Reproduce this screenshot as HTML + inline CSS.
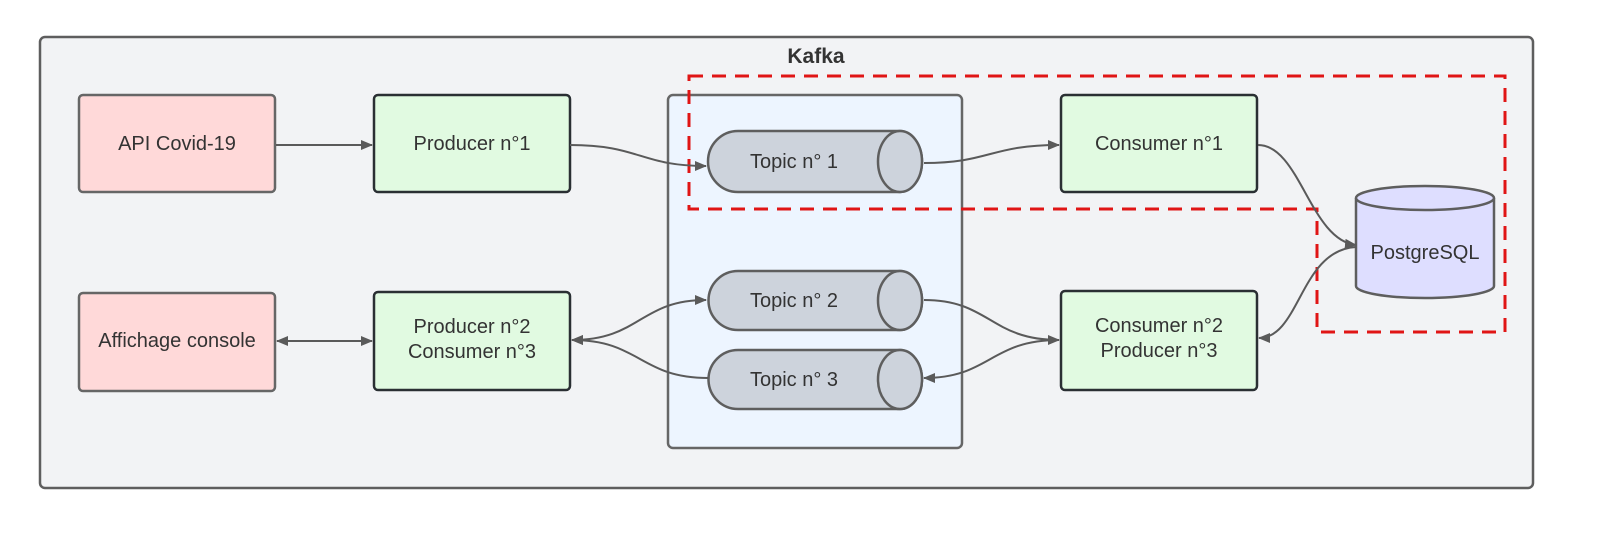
<!DOCTYPE html>
<html><head><style>html,body{margin:0;padding:0;background:#fff;overflow:hidden;width:1597px;height:537px}svg{display:block}</style></head><body>
<svg width="1597" height="537" viewBox="0 0 1597 537" xmlns="http://www.w3.org/2000/svg" font-family="Liberation Sans, sans-serif">
<defs><marker id="a" markerWidth="12" markerHeight="10" refX="11" refY="5" orient="auto-start-reverse" markerUnits="userSpaceOnUse"><path d="M0,0 L12,5 L0,10 Z" fill="#5a5a5a"/></marker></defs>
<rect x="40" y="37" width="1493" height="451" rx="5" fill="#f2f3f5" stroke="#5e5e5e" stroke-width="2.5"/>
<text x="816" y="63" font-size="21" font-weight="bold" fill="#333" text-anchor="middle">Kafka</text>
<rect x="668" y="95" width="294" height="353" rx="5" fill="#edf5ff" stroke="#666" stroke-width="2.5"/>
<g stroke="#333" stroke-width="2.5">
<rect x="79" y="95" width="196" height="97" rx="4" fill="#ffd9d9" stroke="#666"/>
<rect x="79" y="293" width="196" height="98" rx="4" fill="#ffd9d9" stroke="#666"/>
<rect x="374" y="95" width="196" height="97" rx="4" fill="#e1fae1" stroke="#2a2f33"/>
<rect x="374" y="292" width="196" height="98" rx="4" fill="#e1fae1" stroke="#2a2f33"/>
<rect x="1061" y="95" width="196" height="97" rx="4" fill="#e1fae1" stroke="#2a2f33"/>
<rect x="1061" y="291" width="196" height="99" rx="4" fill="#e1fae1" stroke="#2a2f33"/>
</g>
<g fill="#cdd3dc" stroke="#5e5e5e" stroke-width="2.5">
<path d="M738,131 H900 A22,30.5 0 0 1 900,192 H738 A30,30.5 0 0 1 738,131 Z"/><ellipse cx="900" cy="161.5" rx="22" ry="30.5"/>
<path d="M738,271 H900 A22,29.5 0 0 1 900,330 H738 A29.5,29.5 0 0 1 738,271 Z"/><ellipse cx="900" cy="300.5" rx="22" ry="29.5"/>
<path d="M738,350 H900 A22,29.5 0 0 1 900,409 H738 A29.5,29.5 0 0 1 738,350 Z"/><ellipse cx="900" cy="379.5" rx="22" ry="29.5"/>
</g>
<g fill="#dedeff" stroke="#5e5e5e" stroke-width="2.5">
<path d="M1356,198 V286 A69,12 0 0 0 1494,286 V198"/>
<ellipse cx="1425" cy="198" rx="69" ry="12"/>
</g>
<path d="M689,76 H1505 V332 H1317 V209 H689 Z" fill="none" stroke="#e01515" stroke-width="3" stroke-dasharray="14,9"/>
<g fill="none" stroke="#5a5a5a" stroke-width="2">
<path d="M276,145 H372" marker-end="url(#a)"/>
<path d="M570,145 C640,145 640,166 706,166" marker-end="url(#a)"/>
<path d="M924,163 C990,163 990,145 1059,145" marker-end="url(#a)"/>
<path d="M1258,145 C1300,145 1310,240 1356,245" marker-end="url(#a)"/>
<path d="M1356,247 C1300,250 1300,338 1259,338" marker-end="url(#a)"/>
<path d="M924,300 C990,300 990,340 1059,340" marker-end="url(#a)"/>
<path d="M1059,340 C990,340 990,378 924,378" marker-end="url(#a)"/>
<path d="M572,340 C640,340 640,300 706,300" marker-start="url(#a)" marker-end="url(#a)"/>
<path d="M708,378 C640,378 640,340 572,340" marker-end="url(#a)"/>
<path d="M277,341 H372" marker-start="url(#a)" marker-end="url(#a)"/>
</g>
<g font-size="20" fill="#333" text-anchor="middle">
<text x="177" y="150">API Covid-19</text>
<text x="472" y="150">Producer n°1</text>
<text x="1159" y="150">Consumer n°1</text>
<text x="177" y="347">Affichage console</text>
<text x="472" y="333">Producer n°2</text><text x="472" y="358">Consumer n°3</text>
<text x="1159" y="332">Consumer n°2</text><text x="1159" y="357">Producer n°3</text>
<text x="794" y="168">Topic n° 1</text>
<text x="794" y="307">Topic n° 2</text>
<text x="794" y="386">Topic n° 3</text>
<text x="1425" y="259">PostgreSQL</text>
</g>
</svg>
</body></html>
